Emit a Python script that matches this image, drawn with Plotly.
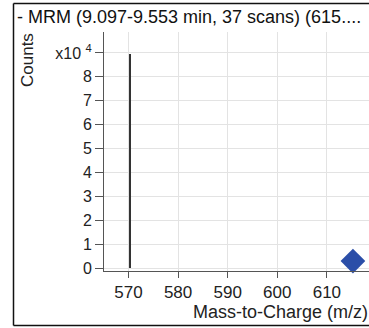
import plotly.graph_objects as go

# data
peak_mz = [570.3]
peak_counts = [89500]
precursor_mz = [615.25]
precursor_counts = [2900]
x_ticks = [570, 580, 590, 600, 610]
y_ticks = [0, 10000, 20000, 30000, 40000, 50000, 60000, 70000, 80000, 90000]
y_ticktext = ["0", "1", "2", "3", "4", "5", "6", "7", "8", "x10 <sup>4</sup>"]
title_text = "- MRM (9.097-9.553 min, 37 scans) (615...."
x_title = "Mass-to-Charge (m/z)"
y_title = "Counts"

W, H = 369, 328
L, R, T, B = 104, 0, 32, 57
pw, ph = W - L - R, H - T - B

FONT = "Liberation Sans, Arial, sans-serif"

fig = go.Figure()
fig.add_trace(go.Bar(x=peak_mz, y=peak_counts, width=0.4,
                     marker=dict(color="#333333", line=dict(width=0)),
                     showlegend=False, hoverinfo="skip"))
fig.add_trace(go.Scatter(x=precursor_mz, y=precursor_counts, mode="markers",
                         marker=dict(symbol="diamond", size=19, color="#2B4EA8",
                                     line=dict(width=0)),
                         showlegend=False, cliponaxis=False, hoverinfo="skip"))

def px_x(p):
    return (p - L) / pw

def px_y(p):
    return (H - B - p) / ph

fig.update_layout(
    width=W, height=H,
    margin=dict(l=L, r=R, t=T, b=B, pad=0),
    paper_bgcolor="white", plot_bgcolor="white",
    font=dict(family=FONT, size=17, color="#222222"),
    xaxis=dict(range=[565.06, 618.49], tickvals=x_ticks,
               ticktext=[str(v) for v in x_ticks],
               showgrid=True, gridcolor="#e3e3e3", gridwidth=1,
               showline=True, linecolor="#555555", linewidth=1,
               ticks="outside", ticklen=6, tickcolor="#555555",
               zeroline=False, tickfont=dict(size=17, color="#222222")),
    yaxis=dict(range=[-1255, 98745], tickvals=y_ticks, ticktext=y_ticktext,
               showgrid=True, gridcolor="#e3e3e3", gridwidth=1,
               showline=True, linecolor="#555555", linewidth=1,
               ticks="outside", ticklen=8, tickcolor="#555555",
               zeroline=False, tickfont=dict(size=16, color="#222222")),
    bargap=0,
)

fig.add_annotation(text=title_text, xref="paper", yref="paper",
                   x=px_x(15), y=px_y(17), xanchor="left", yanchor="middle",
                   showarrow=False, font=dict(size=18, color="#111111"))
fig.add_annotation(text=x_title, xref="paper", yref="paper",
                   x=px_x(191), y=px_y(312), xanchor="left", yanchor="middle",
                   showarrow=False, font=dict(size=18, color="#222222"))
fig.add_annotation(text=y_title, xref="paper", yref="paper",
                   x=px_x(28), y=px_y(60), xanchor="center", yanchor="middle",
                   textangle=-90, showarrow=False,
                   font=dict(size=17, color="#222222"))

frame = dict(color="#111111", width=1.5)
fig.add_shape(type="line", xref="paper", yref="paper",
              x0=px_x(13.5), x1=px_x(13.5), y0=px_y(325.5), y1=px_y(3.5), line=frame)
fig.add_shape(type="line", xref="paper", yref="paper",
              x0=px_x(13.5), x1=px_x(369), y0=px_y(3.5), y1=px_y(3.5), line=frame)
fig.add_shape(type="line", xref="paper", yref="paper",
              x0=px_x(13.5), x1=px_x(369), y0=px_y(325.5), y1=px_y(325.5), line=frame)

fig.write_html("out.html", config={"displayModeBar": False},
               post_script="document.body.style.margin='0';"
                           "document.body.style.overflow='hidden';"
                           "document.documentElement.style.overflow='hidden';")
